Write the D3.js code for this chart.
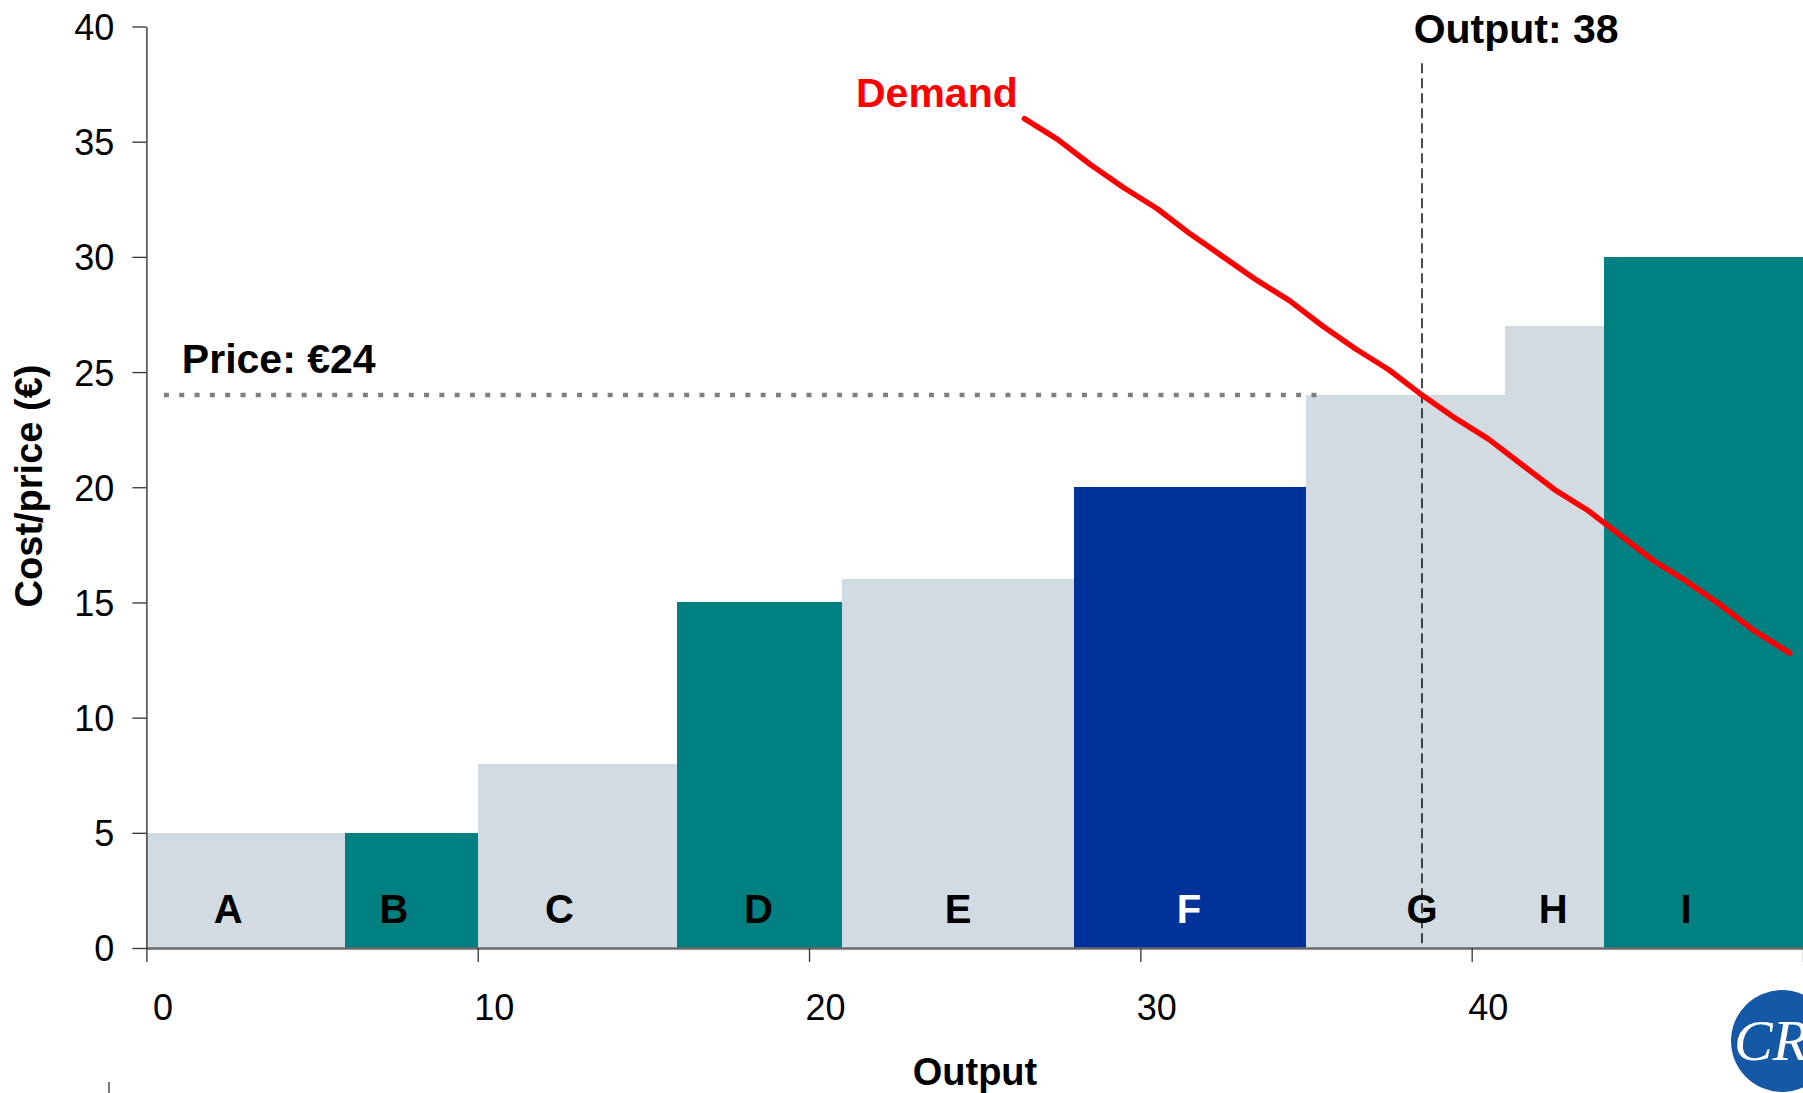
<!DOCTYPE html>
<html>
<head>
<meta charset="utf-8">
<script src="https://cdn.jsdelivr.net/npm/d3@7"></script>
<style>
  html, body { margin: 0; padding: 0; background: #ffffff; }
  svg { display: block; }
</style>
</head>
<body>
<svg id="chart" width="1803" height="1093"></svg>
<script>
// ---------- data ----------
const categories   = ["A", "B", "C", "D", "E", "F", "G", "H", "I"];
const outputStart  = [0, 6, 10, 16, 21, 28, 35, 41, 44];
const outputEnd    = [6, 10, 16, 21, 28, 35, 41, 44, 50];
const unitCost     = [5, 5, 8, 15, 16, 20, 24, 27, 30];
const producerType = ["other", "peer", "other", "peer", "other", "focus", "other", "other", "peer"];
const labelOutput  = [2.47, 7.47, 12.47, 18.47, 24.5, 31.47, 38.5, 42.46, 46.47];

const demandOutput = [26.5, 27.5, 28.5, 29.5, 30.5, 31.5, 32.5, 33.5, 34.5, 35.5, 36.5, 37.5,
                      38.5, 39.5, 40.5, 41.5, 42.5, 43.5, 44.5, 45.5, 46.5, 47.5, 48.5, 49.6];
const demandPrice  = [36.0, 35.1, 34.0, 33.0, 32.1, 31.0, 30.0, 29.0, 28.1, 27.0, 26.0, 25.1,
                      24.0, 23.0, 22.1, 21.0, 19.9, 19.0, 17.9, 16.8, 15.9, 14.9, 13.8, 12.8];

const marketPrice = 24;
const priceLineOutput = [0.53, 35.45];
const clearingOutput = 38.5;
const clearingLineTop = 38.4;

const xTicks = [0, 10, 20, 30, 40, 50];
const xTickLabels = ["0", "10", "20", "30", "40", ""];
const yTicks = [0, 5, 10, 15, 20, 25, 30, 35, 40];

const priceLabel = "Price: €24";
const outputLabel = "Output: 38";
const demandLabel = "Demand";
const xTitle = "Output";
const yTitle = "Cost/price (€)";

// ---------- styles ----------
const SANS = "'Liberation Sans', Arial, Helvetica, sans-serif";
const SERIF = "'Liberation Serif', 'DejaVu Serif', 'Times New Roman', serif";
const colorOf = { other: "#d3dbe2", peer: "#008080", focus: "#003399" };
const labelColorOf = { other: "#000000", peer: "#000000", focus: "#ffffff" };

// ---------- scales ----------
const svg = d3.select("#chart");
const x = d3.scaleLinear().domain([0, 50]).range([146.4, 1803]);
const y = d3.scaleLinear().domain([0, 40]).range([948, 26.5]);

const bars = categories.map((c, i) => ({
  name: c, x0: outputStart[i], x1: outputEnd[i], cost: unitCost[i],
  type: producerType[i], lx: labelOutput[i]
}));

// bars
svg.append("g").attr("shape-rendering", "crispEdges")
  .selectAll("rect").data(bars).join("rect")
  .attr("x", d => x(d.x0))
  .attr("width", d => x(d.x1) - x(d.x0))
  .attr("y", d => y(d.cost))
  .attr("height", d => y(0) - y(d.cost))
  .attr("fill", d => colorOf[d.type]);

// price dotted line
svg.append("line")
  .attr("x1", x(priceLineOutput[0])).attr("x2", x(priceLineOutput[1]))
  .attr("y1", y(marketPrice)).attr("y2", y(marketPrice))
  .attr("stroke", "#7f7f7f").attr("stroke-width", 4.5)
  .attr("stroke-dasharray", "5,10.3");

// clearing output dashed line
svg.append("line")
  .attr("x1", x(clearingOutput)).attr("x2", x(clearingOutput))
  .attr("y1", y(clearingLineTop)).attr("y2", y(0))
  .attr("stroke", "#000000").attr("stroke-width", 1.4)
  .attr("stroke-dasharray", "10,5");

// bar labels
svg.append("g").selectAll("text").data(bars).join("text")
  .attr("x", d => x(d.lx))
  .attr("y", 923)
  .attr("text-anchor", "middle")
  .style("font-family", SANS)
  .attr("font-weight", "bold")
  .attr("font-size", 40)
  .attr("fill", d => labelColorOf[d.type])
  .text(d => d.name);

// demand line
const demand = demandOutput.map((o, i) => ({ o, p: demandPrice[i] }));
svg.append("path").datum(demand)
  .attr("d", d3.line().x(d => x(d.o)).y(d => y(d.p)))
  .attr("fill", "none")
  .attr("stroke", "#ff0000")
  .attr("stroke-width", 5.5)
  .attr("stroke-linecap", "round")
  .attr("stroke-linejoin", "round");

// annotations
svg.append("text")
  .attr("x", x(1.07)).attr("y", y(24.1) - 20)
  .style("font-family", SANS)
  .attr("font-weight", "bold").attr("font-size", 41).attr("fill", "#000")
  .text(priceLabel);

svg.append("text")
  .attr("x", x(38.25)).attr("y", 43)
  .style("font-family", SANS)
  .attr("font-weight", "bold").attr("font-size", 41).attr("fill", "#000")
  .text(outputLabel);

svg.append("text")
  .attr("x", x(26.3)).attr("y", 107)
  .attr("text-anchor", "end")
  .style("font-family", SANS)
  .attr("font-weight", "bold").attr("font-size", 41).attr("fill", "#ff0000")
  .text(demandLabel);

// x axis
const xAxis = svg.append("g")
  .attr("transform", `translate(0,${y(0)})`)
  .call(d3.axisBottom(x).tickValues(xTicks).tickSize(14).tickSizeOuter(0)
    .tickFormat((d, i) => xTickLabels[i]));
xAxis.select(".domain").attr("stroke", "#6a6a6a").attr("stroke-width", 2.6);
xAxis.selectAll(".tick line").attr("stroke", "#333").attr("stroke-width", 1.3);
xAxis.selectAll(".tick text")
  .attr("x", 16).attr("y", 72).attr("dy", 0)
  .attr("font-size", 36).attr("fill", "#000")
  .style("font-family", SANS);

// y axis
const yAxis = svg.append("g")
  .attr("transform", `translate(${x(0)},0)`)
  .call(d3.axisLeft(y).tickValues(yTicks).tickSize(14).tickPadding(18).tickSizeOuter(0));
yAxis.select(".domain").attr("stroke", "#333").attr("stroke-width", 1.4);
yAxis.selectAll(".tick line").attr("stroke", "#333").attr("stroke-width", 1.3);
yAxis.selectAll(".tick text")
  .attr("font-size", 36).attr("fill", "#000").attr("dy", "0.36em")
  .style("font-family", SANS);

// axis titles
svg.append("text")
  .attr("x", 975).attr("y", 1085)
  .attr("text-anchor", "middle")
  .style("font-family", SANS)
  .attr("font-weight", "bold").attr("font-size", 38)
  .text(xTitle);

svg.append("text")
  .attr("transform", "translate(42,486) rotate(-90)")
  .attr("text-anchor", "middle")
  .style("font-family", SANS)
  .attr("font-weight", "bold").attr("font-size", 38)
  .text(yTitle);

// small stray mark bottom-left
svg.append("line")
  .attr("x1", 109).attr("x2", 109).attr("y1", 1082).attr("y2", 1093)
  .attr("stroke", "#333").attr("stroke-width", 1.3);

// logo (partially cropped at the edge, as in the reference)
svg.append("circle")
  .attr("cx", 1782).attr("cy", 1041).attr("r", 51)
  .attr("fill", "#1559a6");
svg.append("text")
  .attr("x", 1734).attr("y", 1060)
  .style("font-family", SERIF)
  .style("font-style", "italic")
  .attr("font-size", 58)
  .attr("fill", "#ffffff")
  .text("CR");
</script>
</body>
</html>
